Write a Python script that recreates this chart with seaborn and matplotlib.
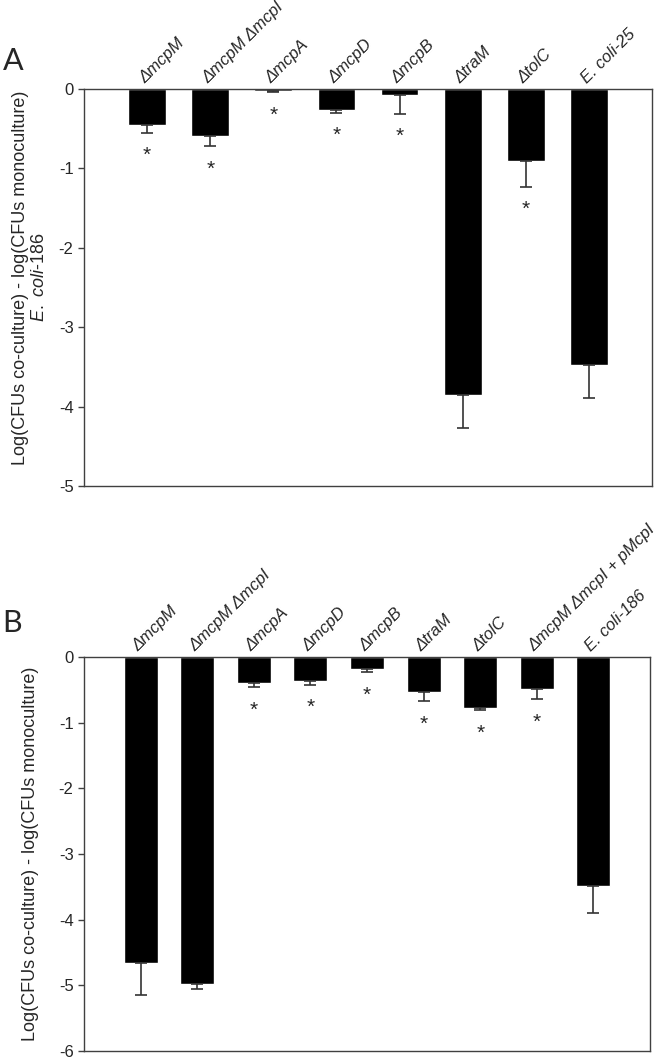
import numpy as np
import matplotlib
matplotlib.use('Agg')
import matplotlib.pyplot as plt
import seaborn as sns

# Panel A data
labels_a = ['ΔmcpM', 'ΔmcpM ΔmcpI', 'ΔmcpA', 'ΔmcpD', 'ΔmcpB', 'ΔtraM', 'ΔtolC', 'E. coli-25']
means_a = [-0.45, -0.59, -0.03, -0.27, -0.075, -3.85, -0.91, -3.48]
errs_a = [0.10, 0.13, 0.01, 0.03, 0.235, 0.42, 0.32, 0.41]
stars_a = [True, True, True, True, True, False, True, False]

# Panel B data
labels_b = ['ΔmcpM', 'ΔmcpM ΔmcpI', 'ΔmcpA', 'ΔmcpD', 'ΔmcpB', 'ΔtraM', 'ΔtolC',
            'ΔmcpM ΔmcpI + pMcpI', 'E. coli-186']
means_b = [-4.66, -4.98, -0.39, -0.37, -0.19, -0.54, -0.78, -0.49, -3.48]
errs_b = [0.49, 0.07, 0.07, 0.05, 0.04, 0.13, 0.03, 0.15, 0.42]
stars_b = [False, False, True, True, True, True, True, True, False]

sns.set_style('ticks')
plt.rcParams['font.family'] = ['Liberation Sans', 'DejaVu Sans']
plt.rcParams['axes.unicode_minus'] = False
plt.rcParams['mathtext.fontset'] = 'custom'
plt.rcParams['mathtext.rm'] = 'Liberation Sans'
plt.rcParams['mathtext.it'] = 'Liberation Sans:italic'

W, H = 666, 1059
fig = plt.figure(figsize=(W / 100, H / 100), dpi=100)
ax_a = fig.add_axes([84 / W, 1 - 486 / H, 568 / W, 397 / H])
ax_b = fig.add_axes([84 / W, 1 - 1051 / H, 566 / W, 394 / H])


def draw_panel(ax, labels, means, errs, stars, ymin):
    n = len(labels)
    sns.barplot(x=labels, y=means, color='black', width=0.6, saturation=1,
                errorbar=None, ax=ax)
    ax.errorbar(np.arange(n), means, yerr=[errs, np.zeros(n)], fmt='none',
                ecolor='#333333', elinewidth=1.2, capsize=4, capthick=1.2)
    # significance stars below the error bar caps
    for i, s in enumerate(stars):
        if s:
            ax.annotate('*', xy=(i, means[i] - errs[i]), xytext=(0, -20.5),
                        textcoords='offset points', ha='center', va='baseline',
                        fontsize=15)
    ax.set_xlim(-1, n)
    ax.set_ylim(ymin, 0)
    ax.set_yticks(range(ymin, 1))
    ax.xaxis.tick_top()
    ax.set_xticks(range(n))
    ax.set_xticklabels(labels, rotation=45, ha='left', rotation_mode='anchor',
                       fontstyle='italic', fontsize=12)
    ax.tick_params(axis='x', length=0, pad=2)
    ax.tick_params(axis='y', direction='out', length=4, width=1,
                   color='#404040', labelsize=12)
    ax.set_xlabel('')
    for sp in ax.spines.values():
        sp.set_visible(True)
        sp.set_color('#404040')
        sp.set_linewidth(1)


draw_panel(ax_a, labels_a, means_a, errs_a, stars_a, -5)
draw_panel(ax_b, labels_b, means_b, errs_b, stars_b, -6)

ax_a.set_ylabel('Log(CFUs co-culture) - log(CFUs monoculture)' + '\n' + r'$\mathit{E.\ coli}$-186',
                fontsize=13, linespacing=1.15)
ax_a.yaxis.set_label_coords(-0.064, 0.525)
ax_b.set_ylabel('Log(CFUs co-culture) - log(CFUs monoculture)', fontsize=13)
ax_b.yaxis.set_label_coords(-0.080, 0.5)

fig.text(0.004, 1 - 70 / H, 'A', fontsize=22, family='Lato', va='baseline')
fig.text(0.004, 1 - 632 / H, 'B', fontsize=22, family='Lato', va='baseline')

fig.savefig('out.png', dpi=100)
